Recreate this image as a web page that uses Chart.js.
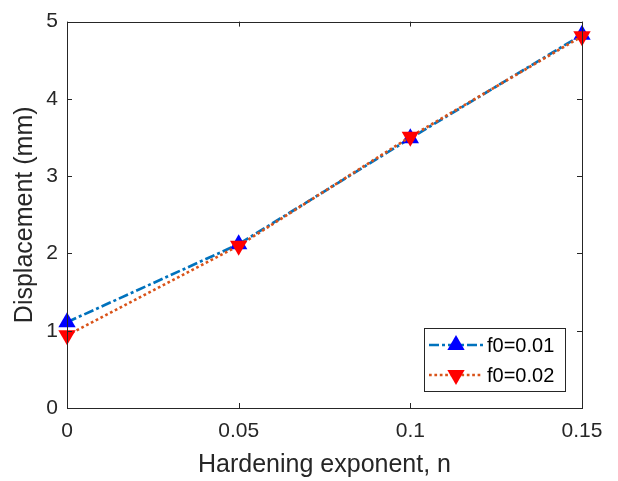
<!DOCTYPE html>
<html>
<head>
<meta charset="utf-8">
<script src="https://cdn.jsdelivr.net/npm/chart.js@4.4.0/dist/chart.umd.min.js"></script>
<style>
  html, body { margin: 0; padding: 0; background: #ffffff; }
  #wrap { width: 618px; height: 481px; position: relative; }
</style>
</head>
<body>
<div id="wrap"><canvas id="c" width="618" height="481"></canvas></div>
<script>
// ---- data ----
const hardeningN = [0, 0.05, 0.1, 0.15];
const dispF001 = [1.11, 2.12, 3.49, 4.83];
const dispF002 = [0.94, 2.10, 3.51, 4.81];
const seriesLabels = ['f0=0.01', 'f0=0.02'];
const xTickValues = [0, 0.05, 0.1, 0.15];
const xTickLabels = ['0', '0.05', '0.1', '0.15'];
const yTickValues = [0, 1, 2, 3, 4, 5];

const AXIS_COLOR = '#262626';
const FONT = '"Liberation Sans", Arial, Helvetica, sans-serif';

function toXY(xs, ys) { return xs.map((x, i) => ({ x: x, y: ys[i] })); }

const boxAndTicks = {
  id: 'boxAndTicks',
  afterDatasetsDraw(chart) {
    const ctx = chart.ctx;
    const a = chart.chartArea;
    const xs = chart.scales.x, ys = chart.scales.y;
    const L = 5;
    ctx.save();
    ctx.strokeStyle = AXIS_COLOR;
    ctx.lineWidth = 1;
    ctx.setLineDash([]);
    ctx.beginPath();
    xTickValues.forEach(v => {
      const px = Math.round(xs.getPixelForValue(v)) + 0.5;
      ctx.moveTo(px, a.bottom); ctx.lineTo(px, a.bottom - L);
      ctx.moveTo(px, a.top); ctx.lineTo(px, a.top + L);
    });
    yTickValues.forEach(v => {
      const py = Math.round(ys.getPixelForValue(v)) + 0.5;
      ctx.moveTo(a.left, py); ctx.lineTo(a.left + L, py);
      ctx.moveTo(a.right, py); ctx.lineTo(a.right - L, py);
    });
    ctx.stroke();
    ctx.strokeRect(Math.round(a.left) + 0.5, Math.round(a.top) + 0.5,
                   Math.round(a.right - a.left), Math.round(a.bottom - a.top));
    ctx.restore();
  },
  afterDraw(chart) {
    // legend inside plot area (bottom-right)
    const ctx = chart.ctx;
    const a = chart.chartArea;
    const w = 141, h = 63;
    const x0 = Math.round(a.right - 17 - w), y0 = Math.round(a.bottom - 17 - h);
    ctx.save();
    ctx.fillStyle = '#ffffff';
    ctx.fillRect(x0, y0, w, h);
    ctx.strokeStyle = AXIS_COLOR;
    ctx.lineWidth = 1;
    ctx.setLineDash([]);
    ctx.strokeRect(x0 + 0.5, y0 + 0.5, w, h);
    chart.data.datasets.forEach((ds, i) => {
      const cy = y0 + 17 + i * 30;
      ctx.strokeStyle = ds.borderColor;
      ctx.lineWidth = ds.borderWidth;
      ctx.setLineDash(ds.borderDash);
      ctx.beginPath();
      ctx.moveTo(x0 + 5, cy); ctx.lineTo(x0 + 59, cy);
      ctx.stroke();
      ctx.setLineDash([]);
      ctx.fillStyle = ds.pointBackgroundColor;
      Chart.helpers.drawPoint(ctx, {
        pointStyle: 'triangle', radius: ds.pointRadius, rotation: ds.pointRotation, borderWidth: 0
      }, x0 + 32, cy);
      ctx.fillStyle = '#000000';
      ctx.font = '20px ' + FONT;
      ctx.textBaseline = 'middle';
      ctx.textAlign = 'left';
      ctx.fillText(ds.label, x0 + 63, cy + 1);
    });
    ctx.restore();
  }
};

new Chart(document.getElementById('c'), {
  type: 'line',
  data: {
    datasets: [
      {
        label: seriesLabels[0],
        data: toXY(hardeningN, dispF001),
        borderColor: '#0072BD',
        borderWidth: 2.7,
        borderDash: [10, 3, 3, 3],
        pointStyle: 'triangle',
        pointRadius: 10,
        pointRotation: 0,
        pointBackgroundColor: '#0000FF',
        pointBorderColor: '#0000FF',
        pointBorderWidth: 0,
        clip: false,
        order: 2
      },
      {
        label: seriesLabels[1],
        data: toXY(hardeningN, dispF002),
        borderColor: '#D95319',
        borderWidth: 2.7,
        borderDash: [2.7, 2.7],
        pointStyle: 'triangle',
        pointRadius: 10,
        pointRotation: 180,
        pointBackgroundColor: '#FF0000',
        pointBorderColor: '#FF0000',
        pointBorderWidth: 0,
        clip: false,
        order: 1
      }
    ]
  },
  options: {
    responsive: false,
    animation: false,
    devicePixelRatio: 1,
    layout: { padding: { left: 0, right: 36, top: 19, bottom: 0 } },
    plugins: { legend: { display: false }, tooltip: { enabled: false } },
    elements: { line: { tension: 0 } },
    scales: {
      x: {
        type: 'linear',
        min: 0, max: 0.15,
        grid: { display: false, drawTicks: false },
        border: { display: false },
        afterBuildTicks: s => { s.ticks = xTickValues.map(v => ({ value: v })); },
        ticks: {
          padding: 11,
          color: AXIS_COLOR,
          font: { family: FONT, size: 21 },
          maxRotation: 0,
          callback: (v) => { const i = xTickValues.indexOf(v); return i >= 0 ? xTickLabels[i] : ''; }
        },
        title: {
          display: true, text: 'Hardening exponent, n', color: AXIS_COLOR,
          font: { family: FONT, size: 25 }, padding: { top: 0, bottom: 1 }
        },
        afterFit: s => { s.height = 73; }
      },
      y: {
        type: 'linear',
        min: 0, max: 5,
        grid: { display: false, drawTicks: false },
        border: { display: false },
        afterBuildTicks: s => { s.ticks = yTickValues.map(v => ({ value: v })); },
        ticks: {
          padding: 9,
          color: AXIS_COLOR,
          font: { family: FONT, size: 21 }
        },
        title: {
          display: true, text: 'Displacement (mm)', color: AXIS_COLOR,
          font: { family: FONT, size: 25 }, padding: { top: 10, bottom: 0 }
        },
        afterFit: s => { s.width = 67; }
      }
    }
  },
  plugins: [boxAndTicks]
});
</script>
</body>
</html>
